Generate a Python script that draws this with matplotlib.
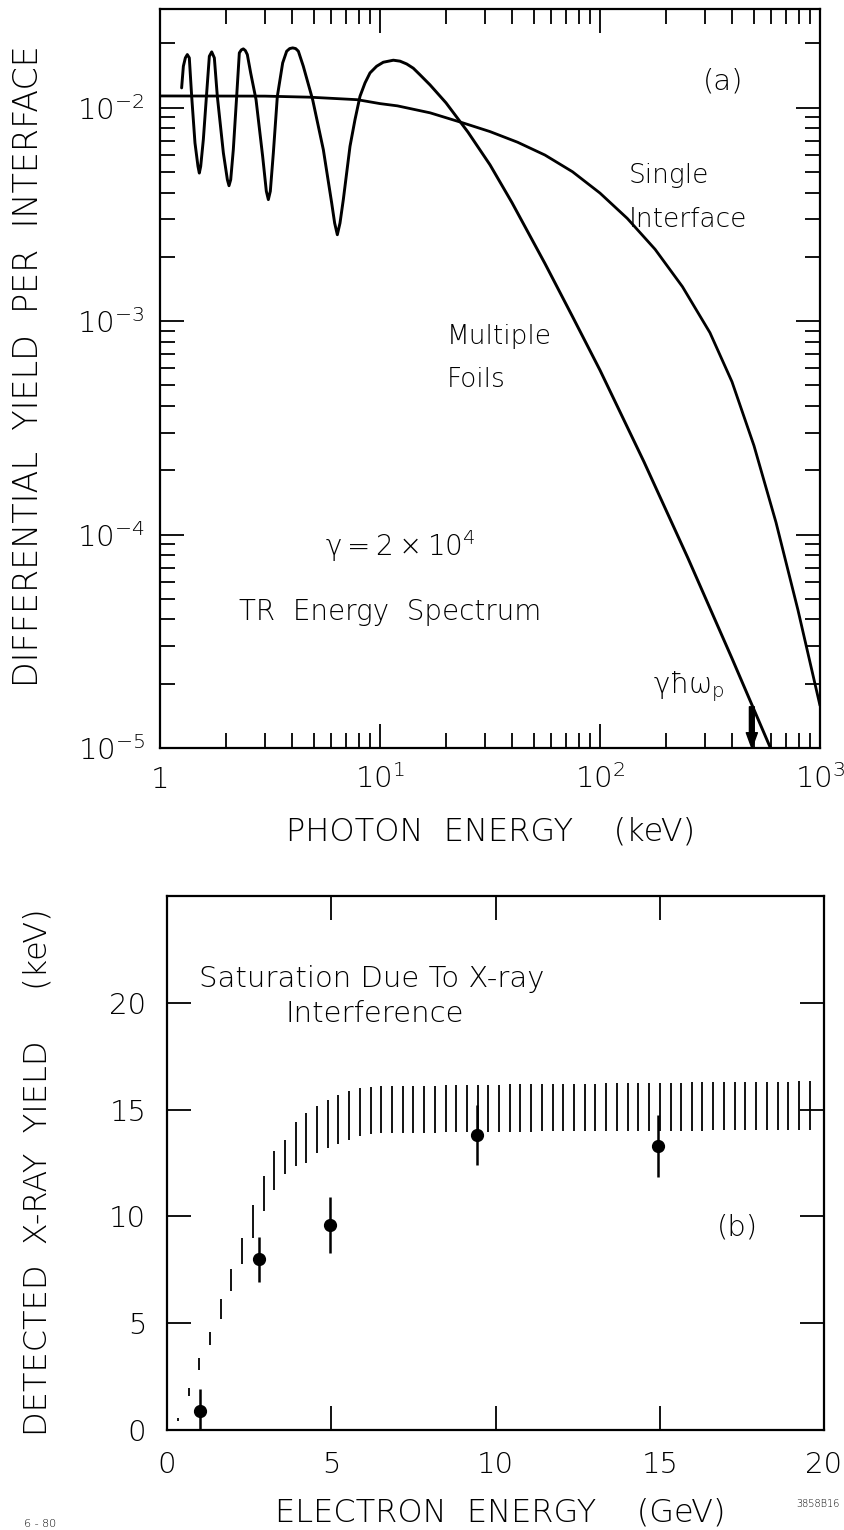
import matplotlib
matplotlib.use("Agg")
import matplotlib.pyplot as plt
from matplotlib import font_manager
from matplotlib.ticker import FixedLocator, LogLocator, NullFormatter

# ---------------- panel (a): TR energy spectrum ----------------
single_energy = [1.0, 3.0, 4.8, 7.9, 10.0, 12.0, 16.9, 23.8, 31.6, 42.2, 56.2,
                 75.0, 100.0, 133.0, 178.0, 237.0, 316.0, 398.0, 501.0, 631.0,
                 794.0, 1000.0]
single_yield = [0.01135, 0.01133, 0.0112, 0.0109, 0.01045, 0.0102, 0.00946,
                0.00849, 0.00773, 0.00689, 0.00600, 0.00501, 0.00398, 0.00303,
                0.00217, 0.00145, 8.83e-4, 5.2e-4, 2.61e-4, 1.14e-4, 4.43e-5,
                1.58e-5]

foils_energy = [1.254, 1.277, 1.304, 1.331, 1.359, 1.393, 1.442, 1.488, 1.509,
                1.531, 1.574, 1.630, 1.676, 1.718, 1.766, 1.822, 1.941, 2.024,
                2.059, 2.096, 2.154, 2.231, 2.294, 2.343, 2.392, 2.443, 2.494,
                2.583, 2.732, 2.928, 3.043, 3.108, 3.173, 3.275, 3.415, 3.611,
                3.765, 3.886, 4.009, 4.137, 4.255, 4.481, 4.941, 5.526, 6.030,
                6.221, 6.398, 6.579, 6.812, 7.305, 7.697, 8.111, 8.548, 9.006,
                9.656, 10.35, 11.50, 12.33, 13.22, 14.17, 15.20, 16.88, 19.95,
                25.12, 31.62, 39.81, 56.23, 75.0, 100.0, 158.5, 251.0, 398.0,
                631.0]
foils_yield = [0.01238, 0.01564, 0.01712, 0.01774, 0.01712, 0.01131, 0.00684,
               0.00531, 0.00494, 0.00531, 0.00709, 0.01173, 0.01742, 0.01826,
               0.01712, 0.01131, 0.00614, 0.00460, 0.00431, 0.00460, 0.00636,
               0.01131, 0.01806, 0.01866, 0.01886, 0.01852, 0.01774, 0.01455,
               0.01091, 0.00592, 0.00406, 0.00371, 0.00406, 0.00614, 0.01131,
               0.01621, 0.01839, 0.01892, 0.01906, 0.01892, 0.01839, 0.01564,
               0.01091, 0.00636, 0.00358, 0.00288, 0.00254, 0.00288, 0.00371,
               0.00659, 0.00879, 0.01131, 0.01306, 0.01455, 0.01564, 0.01633,
               0.01669, 0.01652, 0.01603, 0.01531, 0.01426, 0.01279, 0.01054,
               0.00768, 0.00540, 0.00359, 0.00186, 0.00105, 5.89e-4, 2.19e-4,
               7.76e-5, 2.63e-5, 8.7e-6]

plasma_energy = 490.0          # keV, position of the gamma*hbar*omega_p marker

xticks_a = [1, 10, 100, 1000]
xtick_labels_a = ["1", r"$10^1$", r"$10^2$", r"$10^3$"]
yticks_a = [1e-5, 1e-4, 1e-3, 1e-2]
ytick_labels_a = [r"$10^{-5}$", r"$10^{-4}$", r"$10^{-3}$", r"$10^{-2}$"]

# ---------------- panel (b): detected X-ray yield ----------------
data_energy = [1.0, 2.8, 4.95, 9.45, 14.95]
data_yield = [0.9, 8.0, 9.6, 13.8, 13.3]
data_err = [1.0, 1.05, 1.3, 1.4, 1.45]

band_energy = [0.33, 0.66, 0.98, 1.31, 1.63, 1.96, 2.29, 2.61, 2.94, 3.26,
               3.59, 3.92, 4.24, 4.57, 4.89, 5.22, 5.55, 5.87, 6.20, 6.52,
               6.85, 7.18, 7.50, 7.83, 8.15, 8.48, 8.81, 9.13, 9.46, 9.78,
               10.11, 10.44, 10.76, 11.09, 11.41, 11.74, 12.07, 12.39, 12.72, 13.04,
               13.37, 13.70, 14.02, 14.35, 14.67, 15.00, 15.33, 15.65, 15.98, 16.30,
               16.63, 16.96, 17.28, 17.61, 17.93, 18.26, 18.59, 18.91, 19.24, 19.56]
band_low = [0.40, 1.60, 2.80, 4.00, 5.20, 6.50, 7.75, 9.00, 10.25, 11.25,
            12.00, 12.35, 12.50, 12.95, 13.20, 13.40, 13.60, 13.75, 13.85, 13.90,
            13.90, 13.90, 13.90, 13.92, 13.92, 13.93, 13.94, 13.95, 13.95, 13.95,
            13.95, 13.96, 13.97, 13.97, 13.98, 13.98, 13.99, 14.00, 14.00, 14.00,
            14.00, 14.00, 14.00, 14.00, 14.00, 14.00, 14.01, 14.01, 14.02, 14.02,
            14.03, 14.03, 14.03, 14.04, 14.04, 14.04, 14.05, 14.05, 14.05, 14.05]
band_high = [0.55, 1.95, 3.35, 4.60, 6.15, 7.55, 9.00, 10.55, 11.90, 13.05,
             13.60, 14.40, 14.85, 15.15, 15.45, 15.70, 15.85, 16.00, 16.05, 16.10,
             16.10, 16.10, 16.11, 16.12, 16.12, 16.13, 16.14, 16.15, 16.15, 16.16,
             16.17, 16.18, 16.19, 16.20, 16.20, 16.20, 16.21, 16.21, 16.22, 16.22,
             16.23, 16.23, 16.24, 16.24, 16.25, 16.25, 16.26, 16.26, 16.27, 16.27,
             16.28, 16.28, 16.29, 16.29, 16.30, 16.30, 16.31, 16.31, 16.32, 16.32]

xticks_b = [0, 5, 10, 15, 20]
yticks_b = [0, 5, 10, 15, 20]


# ---------------- fonts: a thin sans-serif for the lettering ----------------
def thin_font():
    wanted = ["DejaVu Sans", "Open Sans", "Lato", "Roboto", "Noto Sans"]
    weights = {}
    for f in font_manager.fontManager.ttflist:
        if f.style != "normal" or f.stretch != "normal":
            continue
        w = f.weight
        if isinstance(w, str):
            w = font_manager.weight_dict.get(w, 400)
        weights.setdefault(f.name, set()).add(int(w))
    for name in wanted:
        light = [w for w in weights.get(name, ()) if 150 <= w <= 350]
        if light:
            return name, min(light, key=lambda w: abs(w - 250))
    return "DejaVu Sans", 400


FONT, WEIGHT = thin_font()
plt.rcParams["font.family"] = [FONT, "DejaVu Sans"]
plt.rcParams["font.weight"] = WEIGHT
plt.rcParams["mathtext.fontset"] = "custom"
plt.rcParams["mathtext.rm"] = f"{FONT}:weight={WEIGHT}"
plt.rcParams["mathtext.it"] = f"{FONT}:weight={WEIGHT}"
plt.rcParams["mathtext.bf"] = f"{FONT}:bold"

W, H = 844, 1530
fig = plt.figure(figsize=(W / 100, H / 100), dpi=100)

LW_AX = 1.6
TICK_FS = 21
LABEL_FS = 23
NOTE_FS = 19

# ================= panel (a) =================
ax = fig.add_axes([160 / W, 1 - 748 / H, 660 / W, 739 / H])
ax.set_xscale("log")
ax.set_yscale("log")
ax.set_xlim(1, 1000)
ax.set_ylim(1e-5, 2.9e-2)

ax.plot(single_energy, single_yield, color="black", lw=2.0,
        solid_joinstyle="round", solid_capstyle="round")
ax.plot(foils_energy, foils_yield, color="black", lw=2.1,
        solid_joinstyle="round", solid_capstyle="round")

ax.xaxis.set_major_locator(FixedLocator(xticks_a))
ax.set_xticklabels(xtick_labels_a)
ax.xaxis.set_minor_locator(LogLocator(base=10, subs=range(2, 10)))
ax.xaxis.set_minor_formatter(NullFormatter())
ax.yaxis.set_major_locator(FixedLocator(yticks_a))
ax.set_yticklabels(ytick_labels_a)
ax.yaxis.set_minor_locator(LogLocator(base=10, subs=range(2, 10)))
ax.yaxis.set_minor_formatter(NullFormatter())

ax.tick_params(which="both", direction="in", top=True, right=True,
               color="black", width=1.3)
ax.tick_params(which="major", length=17, labelsize=TICK_FS)
ax.tick_params(which="minor", length=11)
ax.tick_params(axis="x", which="major", pad=29)
ax.tick_params(axis="y", which="major", pad=11)
for lab in ax.get_xticklabels():
    lab.set_verticalalignment("baseline")
for sp in ax.spines.values():
    sp.set_linewidth(LW_AX)

ax.text(362, 0.01325, "(a)", fontsize=NOTE_FS + 2, ha="center", va="center")
ax.text(135, 4.46e-3, "Single", fontsize=NOTE_FS, ha="left", va="baseline")
ax.text(135, 2.77e-3, "Interface", fontsize=NOTE_FS, ha="left", va="baseline")
ax.text(20.1, 7.83e-4, "Multiple", fontsize=NOTE_FS, ha="left", va="baseline")
ax.text(20.1, 4.92e-4, "Foils", fontsize=NOTE_FS, ha="left", va="baseline")
ax.text(5.62, 7.95e-5, r"$\gamma = 2\times10^4$", fontsize=NOTE_FS + 1,
        ha="left", va="baseline")
ax.text(2.28, 3.98e-5, "TR  Energy  Spectrum", fontsize=NOTE_FS + 1,
        ha="left", va="baseline")
ax.text(370, 1.81e-5, r"$\gamma\hbar\omega_p$", fontsize=NOTE_FS + 1,
        ha="right", va="baseline")
ax.annotate("", xy=(plasma_energy, 1.0e-5), xytext=(plasma_energy, 1.56e-5),
            arrowprops=dict(facecolor="black", edgecolor="black", width=3.5,
                            headwidth=8, headlength=11, shrink=0.0))

fig.text(491 / W, 1 - 832 / H, "PHOTON  ENERGY    (keV)", fontsize=LABEL_FS,
         ha="center", va="center")
fig.text(29 / W, 1 - 366 / H, "DIFFERENTIAL  YIELD  PER  INTERFACE",
         fontsize=LABEL_FS + 1, ha="center", va="center", rotation=90)

# ================= panel (b) =================
bx = fig.add_axes([167 / W, 1 - 1430 / H, 657 / W, 534 / H])
bx.set_xlim(0, 20)
bx.set_ylim(0, 25)

bx.vlines(band_energy, band_low, band_high, color="black", lw=1.3)
bx.errorbar(data_energy, data_yield, yerr=data_err, fmt="o", color="black",
            ms=8.5, elinewidth=1.8, capsize=0)

bx.set_xticks(xticks_b)
bx.set_yticks(yticks_b)
bx.tick_params(direction="in", top=True, right=True, length=17, width=1.3,
               color="black", labelsize=TICK_FS)
bx.tick_params(axis="x", pad=15)
bx.tick_params(axis="y", pad=15)
for sp in bx.spines.values():
    sp.set_linewidth(LW_AX)

bx.text(0.97, 20.76, "Saturation Due To X-ray", fontsize=NOTE_FS + 2,
        ha="left", va="baseline")
bx.text(3.62, 19.12, "Interference", fontsize=NOTE_FS + 2, ha="left",
        va="baseline")
bx.text(17.38, 9.46, "(b)", fontsize=NOTE_FS + 2, ha="center", va="center")

fig.text(500 / W, 1 - 1512 / H, "ELECTRON  ENERGY    (GeV)", fontsize=LABEL_FS,
         ha="center", va="center")
fig.text(38 / W, 1 - 1172 / H, "DETECTED  X-RAY  YIELD     (keV)",
         fontsize=LABEL_FS, ha="center", va="center", rotation=90)

fig.text(24 / W, 1 - 1524 / H, "6 - 80", fontsize=8, ha="left", va="center")
fig.text(840 / W, 1 - 1504 / H, "3858B16", fontsize=7, ha="right", va="center")

fig.savefig("out.png", dpi=100)
